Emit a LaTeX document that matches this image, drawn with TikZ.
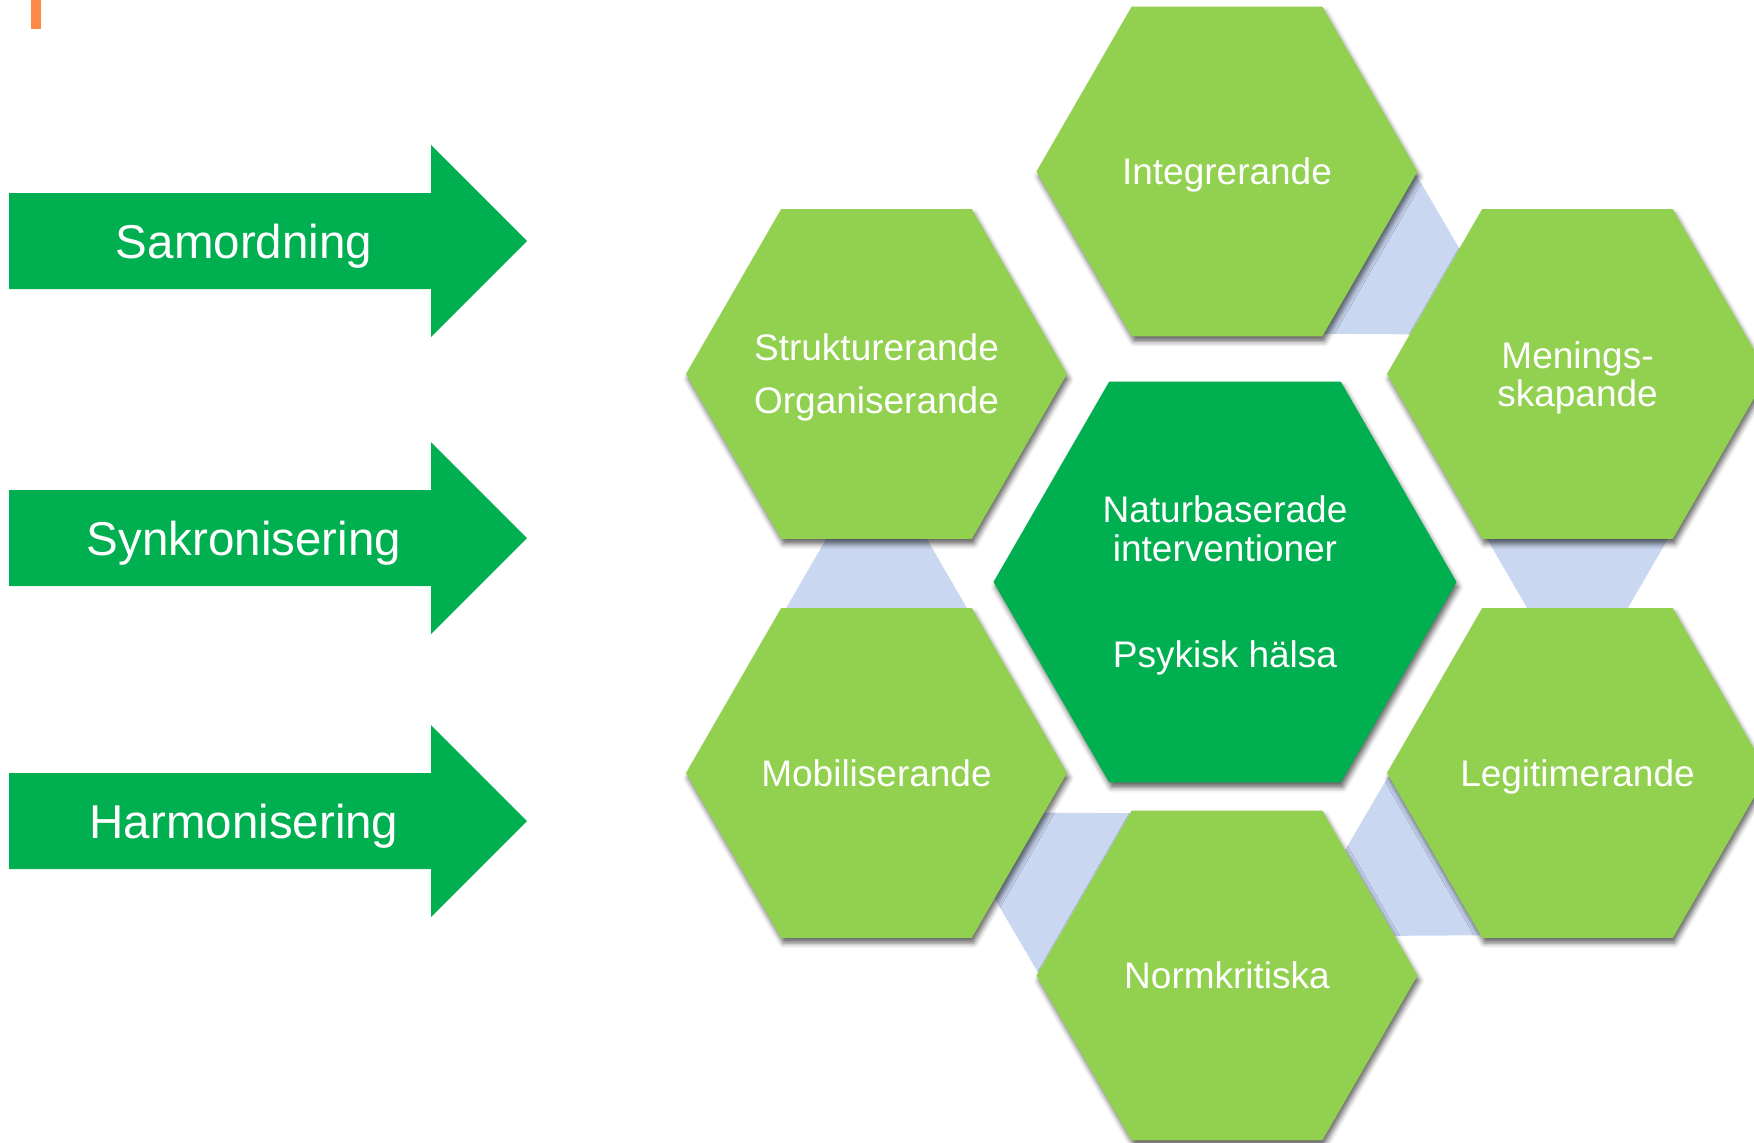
\documentclass[tikz,border=0pt]{standalone}
\usepackage{fontspec}
\setmainfont{Liberation Sans}
\usetikzlibrary{shapes.geometric,calc,shadows.blur,backgrounds}
\definecolor{lgreen}{HTML}{92D050}
\definecolor{dgreen}{HTML}{00B050}
\definecolor{lblue}{RGB}{201,215,241}
\definecolor{orangebar}{HTML}{FF8747}
\tikzset{
  hexbase/.style={regular polygon, regular polygon sides=6, inner sep=0pt, outer sep=0pt,
    blur shadow={shadow xshift=2pt, shadow yshift=-5pt, shadow blur radius=5pt, shadow opacity=60}},
  outerhex/.style={hexbase, fill=lgreen, minimum size=381pt},
  centerhex/.style={hexbase, fill=dgreen, minimum size=463pt},
  hextext/.style={text=white, align=center, text depth=0pt, inner sep=0pt, font=\fontsize{37}{39}\selectfont},
  arrowlabel/.style={text=white, font=\fontsize{47.5}{57}\selectfont, inner sep=0pt, anchor=base},
  conn/.style={fill=lblue},
  bigarrow/.style={fill=dgreen},
}
\begin{document}
\begin{tikzpicture}[x=1pt,y=-1pt]
\useasboundingbox (0,0) rectangle (1754,1143);
\clip (0,0) rectangle (1754,1143);
\fill[orangebar] (31,0) rectangle (41,29);
% arrows
\foreach \cy/\name/\txt in {241/arr1/Samordning, 538/arr2/Synkronisering, 821/arr3/Harmonisering}{
  \fill[bigarrow] (9,\cy-48) -- (431,\cy-48) -- (431,\cy-96) -- (527,\cy) -- (431,\cy+96) -- (431,\cy+48) -- (9,\cy+48) -- cycle;
  \node[arrowlabel] (\name) at (244,\cy+17) {\txt};
}
% hexagons
\node[outerhex] (integ) at (1227,171.5) {};
\node[outerhex] (strukt) at (876.5,374) {};
\node[outerhex] (menings) at (1577.5,374) {};
\node[outerhex] (mobil) at (876.5,773) {};
\node[outerhex] (legit) at (1577.5,773) {};
\node[outerhex] (normk) at (1227,975.5) {};
\node[centerhex] (center) at (1225,582) {};
% texts
\node[hextext] (integ-t) at (integ) {Integrerande};
\node[hextext] (strukt-t) at (strukt) {Strukturerande\\[14pt]Organiserande};
\node[hextext] (menings-t) at (menings) {Menings-\\[-1pt]skapande};
\node[hextext] (mobil-t) at (mobil) {Mobiliserande};
\node[hextext] (legit-t) at (legit) {Legitimerande};
\node[hextext] (normk-t) at (normk) {Normkritiska};
\node[hextext] (center-t) at (center) {Naturbaserade\\interventioner\\[67pt]Psykisk hälsa};
% connectors
\begin{pgfonlayer}{background}
\foreach \s/\e in {integ/menings, menings/legit, legit/normk, normk/mobil, mobil/strukt}{
  \fill[conn] ($(\e)!78pt!(\s)$) -- ($(\s)!186pt!90:(\e)$) -- ($(\s)!186pt!-90:(\e)$) -- cycle;
}
\end{pgfonlayer}
\end{tikzpicture}
\end{document}
